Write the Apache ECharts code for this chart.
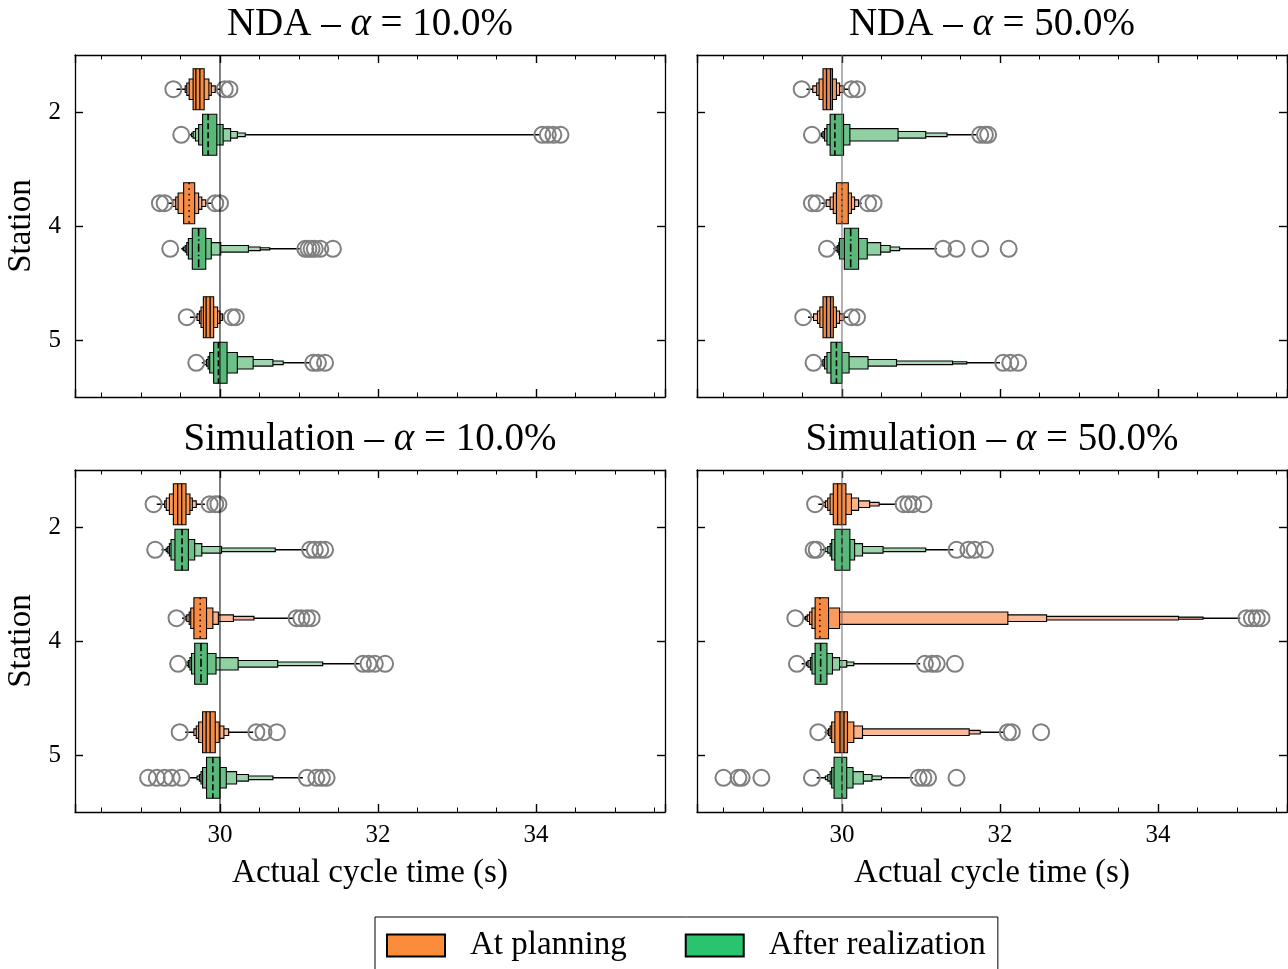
<!DOCTYPE html>
<html>
<head>
<meta charset="utf-8">
<script src="https://cdn.jsdelivr.net/npm/echarts@6/dist/echarts.min.js"></script>
<style>
  html, body { margin: 0; padding: 0; background: #fff; }
  #chart { width: 1288px; height: 969px; }
</style>
</head>
<body>
<div id="chart"></div>
<script>
// stations on the y axis
const STATIONS = ['2', '4', '5'];
const SERIES_NAMES = ['At planning', 'After realization'];
const PANEL_TITLES = [
  'NDA – {a|α} = 10.0%', 'NDA – {a|α} = 50.0%',
  'Simulation – {a|α} = 10.0%', 'Simulation – {a|α} = 50.0%'
];

// letter-value stats per station: median, whisker ends, nested boxes (inner -> outer), outliers
const NDA10_PLAN = [
  { med: 29.72, wh: [29.45, 30.0], lv: [[29.66, 29.80], [29.61, 29.86], [29.58, 29.89], [29.56, 29.94]], out: [29.41, 30.06, 30.12] },
  { med: 29.61, wh: [29.33, 29.89], lv: [[29.54, 29.68], [29.47, 29.73], [29.44, 29.77], [29.40, 29.82]], out: [29.24, 29.30, 29.94, 30.0] },
  { med: 29.85, wh: [29.62, 30.06], lv: [[29.79, 29.92], [29.76, 29.97], [29.74, 30.0], [29.71, 30.03]], out: [29.58, 30.15, 30.20] }
];
const NDA10_REAL = [
  { med: 29.85, wh: [29.62, 34.04], lv: [[29.78, 29.96], [29.73, 30.04], [29.69, 30.135], [29.66, 30.22], [29.64, 30.32]], out: [29.51, 34.08, 34.15, 34.22, 34.31] },
  { med: 29.73, wh: [29.51, 31.01], lv: [[29.65, 29.82], [29.60, 29.89], [29.58, 30.01], [29.56, 30.36], [29.54, 30.51], [29.53, 30.63]], out: [29.37, 31.08, 31.12, 31.16, 31.20, 31.27, 31.43] },
  { med: 29.98, wh: [29.77, 31.14], lv: [[29.92, 30.09], [29.87, 30.22], [29.85, 30.42], [29.83, 30.67], [29.80, 30.80]], out: [29.70, 31.18, 31.24, 31.33] }
];
const NDA50_PLAN = [
  { med: 29.83, wh: [29.55, 30.10], lv: [[29.76, 29.88], [29.71, 29.93], [29.68, 29.97], [29.63, 30.03]], out: [29.49, 30.12, 30.19] },
  { med: 30.0, wh: [29.74, 30.25], lv: [[29.93, 30.08], [29.89, 30.12], [29.85, 30.16], [29.80, 30.21]], out: [29.62, 29.68, 30.33, 30.40] },
  { med: 29.83, wh: [29.57, 30.08], lv: [[29.76, 29.89], [29.72, 29.93], [29.69, 29.97], [29.64, 30.03]], out: [29.51, 30.12, 30.19] }
];
const NDA50_REAL = [
  { med: 29.91, wh: [29.72, 31.70], lv: [[29.85, 30.02], [29.81, 30.10], [29.78, 30.71], [29.76, 31.06], [29.74, 31.33]], out: [29.62, 31.75, 31.81, 31.85] },
  { med: 30.11, wh: [29.89, 31.20], lv: [[30.03, 30.21], [29.97, 30.32], [29.96, 30.49], [29.94, 30.61], [29.92, 30.73]], out: [29.81, 31.28, 31.45, 31.75, 32.11] },
  { med: 29.93, wh: [29.74, 32.0], lv: [[29.86, 30.0], [29.81, 30.09], [29.78, 30.33], [29.76, 30.69], [29.75, 31.40], [29.745, 31.58]], out: [29.64, 32.04, 32.13, 32.23] }
];
const SIM10_PLAN = [
  { med: 29.49, wh: [29.20, 29.81], lv: [[29.41, 29.57], [29.36, 29.62], [29.32, 29.65], [29.30, 29.70]], out: [29.16, 29.87, 29.94, 29.98] },
  { med: 29.75, wh: [29.52, 30.93], lv: [[29.67, 29.83], [29.63, 29.91], [29.61, 29.98], [29.58, 30.17], [29.56, 30.43]], out: [29.45, 30.97, 31.03, 31.10, 31.16] },
  { med: 29.85, wh: [29.56, 30.42], lv: [[29.78, 29.94], [29.73, 29.99], [29.70, 30.05], [29.67, 30.11]], out: [29.49, 30.46, 30.55, 30.72] }
];
const SIM10_REAL = [
  { med: 29.52, wh: [29.26, 31.10], lv: [[29.43, 29.60], [29.38, 29.68], [29.36, 29.77], [29.34, 30.02], [29.32, 30.70]], out: [29.18, 31.14, 31.20, 31.27, 31.33] },
  { med: 29.76, wh: [29.56, 31.77], lv: [[29.68, 29.84], [29.64, 29.95], [29.62, 30.23], [29.60, 30.73], [29.58, 31.30]], out: [29.47, 31.81, 31.88, 31.96, 32.09] },
  { med: 29.91, wh: [29.62, 31.05], lv: [[29.83, 30.0], [29.78, 30.08], [29.76, 30.21], [29.74, 30.36], [29.71, 30.67]], out: [29.09, 29.20, 29.30, 29.39, 29.51, 31.10, 31.22, 31.29, 31.35] }
];
const SIM50_PLAN = [
  { med: 29.97, wh: [29.70, 30.69], lv: [[29.89, 30.05], [29.85, 30.12], [29.82, 30.21], [29.79, 30.35], [29.76, 30.47]], out: [29.66, 30.78, 30.84, 30.90, 31.03] },
  { med: 29.72, wh: [29.51, 35.04], lv: [[29.66, 29.83], [29.62, 29.97], [29.59, 32.10], [29.56, 32.59], [29.54, 34.26], [29.53, 34.57]], out: [29.41, 35.12, 35.19, 35.25, 35.31] },
  { med: 30.0, wh: [29.78, 32.06], lv: [[29.91, 30.07], [29.87, 30.15], [29.85, 30.26], [29.83, 31.61], [29.81, 31.75]], out: [29.70, 32.10, 32.15, 32.52] }
];
const SIM50_REAL = [
  { med: 30.0, wh: [29.72, 31.41], lv: [[29.91, 30.10], [29.87, 30.16], [29.85, 30.26], [29.82, 30.52], [29.79, 31.06]], out: [29.64, 29.68, 31.45, 31.60, 31.68, 31.81] },
  { med: 29.73, wh: [29.49, 30.99], lv: [[29.66, 29.81], [29.62, 29.88], [29.60, 29.97], [29.57, 30.06], [29.55, 30.15]], out: [29.43, 31.05, 31.14, 31.20, 31.43] },
  { med: 30.0, wh: [29.68, 30.90], lv: [[29.90, 30.06], [29.87, 30.14], [29.85, 30.27], [29.82, 30.38], [29.79, 30.50]], out: [28.50, 28.69, 28.73, 28.98, 29.62, 30.97, 31.03, 31.09, 31.45] }
];

const PANELS = [
  [NDA10_PLAN, NDA10_REAL], [NDA50_PLAN, NDA50_REAL],
  [SIM10_PLAN, SIM10_REAL], [SIM50_PLAN, SIM50_REAL]
];
const REF_VALUE = 30;

// styles
const FONT = 'Liberation Serif';
const LEGEND_COLORS = ['#fb8d3a', '#2bc46e'];
const LEVEL_COLORS = [
  ['#f68a42', '#f89b5c', '#fbb289', '#f9bb9c', '#f2b398', '#e8aa90'],
  ['#58b878', '#6cc088', '#90d0a2', '#9fd6b0', '#a9dab8', '#b3dec0']
];
const LEVEL_H = [1, 0.5, 0.3, 0.16, 0.09, 0.05];
const MEDIAN_STYLE = [['double', 'dotted', 'double'], ['dashed', 'dashdot', 'dashed']];
const REF_COLORS = ['#000', '#666', '#000', '#666'];
const GRIDS = [
  { left: 75, top: 55, width: 590, height: 342 },
  { left: 697, top: 55, width: 590, height: 342 },
  { left: 75, top: 470, width: 590, height: 342 },
  { left: 697, top: 470, width: 590, height: 342 }
];
const GROUP_OFFSET = 0.2;
const BOX_FRAC = 0.36;

function boxenRender(stats, hue) {
  return function (params, api) {
    const si = params.dataIndex;
    const st = stats[si];
    const c = api.coord([api.value(0), api.value(1)]);
    const band = api.size([0, 1])[1];
    const cy = c[1] + (hue === 0 ? -1 : 1) * band * GROUP_OFFSET;
    const full = band * BOX_FRAC;
    const px = v => api.coord([v, api.value(1)])[0];
    const children = [];
    children.push({
      type: 'line',
      shape: { x1: px(st.wh[0]), y1: cy, x2: px(st.wh[1]), y2: cy },
      style: { stroke: '#000', lineWidth: 1.6 }
    });
    for (let k = st.lv.length - 1; k >= 0; k--) {
      const h = full * LEVEL_H[k];
      const x0 = px(st.lv[k][0]);
      const x1 = px(st.lv[k][1]);
      children.push({
        type: 'rect',
        shape: { x: x0, y: cy - h / 2, width: x1 - x0, height: h },
        style: { fill: LEVEL_COLORS[hue][k], stroke: '#000', lineWidth: 1.1 }
      });
    }
    const mx = c[0];
    const ms = MEDIAN_STYLE[hue][si];
    const y0 = cy - full / 2, y1 = cy + full / 2;
    if (ms === 'double') {
      [-2, 2].forEach(d => children.push({
        type: 'line', shape: { x1: mx + d, y1: y0, x2: mx + d, y2: y1 },
        style: { stroke: '#000', lineWidth: 1.3 }
      }));
    } else {
      const dash = ms === 'dotted' ? [1.5, 4] : ms === 'dashed' ? [6, 3] : [8, 3, 1.5, 3];
      children.push({
        type: 'line', shape: { x1: mx, y1: y0, x2: mx, y2: y1 },
        style: { stroke: '#000', lineWidth: 1.6, lineDash: dash }
      });
    }
    st.out.forEach(v => children.push({
      type: 'circle', shape: { cx: px(v), cy: cy, r: 8 },
      style: { fill: 'none', stroke: '#7f7f7f', lineWidth: 2 }
    }));
    return { type: 'group', children: children };
  };
}

function refRender(g) {
  return function (params, api) {
    const cs = params.coordSys;
    const x = api.coord([api.value(0), 0])[0];
    return {
      type: 'line',
      shape: { x1: x, y1: cs.y, x2: x, y2: cs.y + cs.height },
      style: { stroke: REF_COLORS[g], lineWidth: 1 }
    };
  };
}

const chart = echarts.init(document.getElementById('chart'), null, { renderer: 'canvas' });

const xAxes = [];
const yAxes = [];
const series = [];
const titles = [];

function xAxisOpt(g, pos) {
  const showLabel = pos === 'bottom' && g >= 2;
  return {
    gridIndex: g, type: 'value', position: pos,
    min: 28.165, max: 35.633, splitNumber: 4, minInterval: 2, maxInterval: 2,
    axisLine: { show: true, onZero: false, lineStyle: { color: '#000', width: 1.3 } },
    axisTick: { show: true, inside: true, length: 8, lineStyle: { color: '#000', width: 1.4 } },
    minorTick: { show: true, splitNumber: 4, length: 4.5, lineStyle: { color: '#000', width: 1 } },
    splitLine: { show: false },
    axisLabel: {
      show: showLabel, showMinLabel: false, showMaxLabel: false, margin: 11,
      color: '#000', fontFamily: FONT, fontSize: 25
    },
    name: showLabel ? 'Actual cycle time (s)' : '',
    nameLocation: 'middle', nameGap: 45,
    nameTextStyle: { color: '#000', fontFamily: FONT, fontSize: 33 }
  };
}

function yAxisOpt(g, pos) {
  const showLabel = pos === 'left' && g % 2 === 0;
  return {
    gridIndex: g, type: 'category', data: STATIONS, inverse: true, position: pos,
    axisLine: { show: true, onZero: false, lineStyle: { color: '#000', width: 1.3 } },
    axisTick: { show: true, inside: true, alignWithLabel: true, length: 8, lineStyle: { color: '#000', width: 1.4 } },
    splitLine: { show: false },
    axisLabel: { show: showLabel, margin: 14, color: '#000', fontFamily: FONT, fontSize: 25 },
    name: showLabel ? 'Station' : '',
    nameLocation: 'middle', nameGap: 37, nameRotate: 90,
    nameTextStyle: { color: '#000', fontFamily: FONT, fontSize: 33 }
  };
}

for (let g = 0; g < 4; g++) {
  xAxes[g] = xAxisOpt(g, 'bottom');
  xAxes[g + 4] = xAxisOpt(g, 'top');
  yAxes[g] = yAxisOpt(g, 'left');
  yAxes[g + 4] = yAxisOpt(g, 'right');

  PANELS[g].forEach((stats, hue) => {
    series.push({
      name: SERIES_NAMES[hue],
      type: 'custom',
      xAxisIndex: g, yAxisIndex: g,
      itemStyle: { color: LEGEND_COLORS[hue] },
      data: stats.map((s, i) => [s.med, i]),
      encode: { x: 0, y: 1 },
      renderItem: boxenRender(stats, hue),
      z: 2,
      silent: true
    });
  });
  series.push({
    type: 'custom',
    xAxisIndex: g, yAxisIndex: g,
    data: [[REF_VALUE, 0]],
    encode: { x: 0, y: 1 },
    renderItem: refRender(g),
    z: 3,
    silent: true
  });

  const grid = GRIDS[g];
  titles.push({
    text: PANEL_TITLES[g],
    left: grid.left + grid.width / 2,
    top: g < 2 ? 5 : 420,
    textAlign: 'center',
    padding: 0,
    textStyle: {
      fontFamily: FONT, fontSize: 39, fontWeight: 'normal', color: '#000',
      rich: { a: { fontFamily: FONT, fontSize: 39, fontStyle: 'italic', color: '#000' } }
    }
  });
}

const option = {
  animation: false,
  backgroundColor: '#fff',
  title: titles,
  grid: GRIDS.map(r => Object.assign({ show: false, containLabel: false }, r)),
  xAxis: xAxes,
  yAxis: yAxes,
  legend: {
    left: 375, top: 917,
    orient: 'horizontal',
    itemWidth: 58, itemHeight: 22, itemGap: 58,
    padding: [12, 12, 40, 11],
    borderColor: '#000', borderWidth: 1, borderRadius: 0,
    backgroundColor: '#fff',
    selectedMode: false,
    textStyle: { fontFamily: FONT, fontSize: 33, color: '#000', padding: [0, 0, 0, 20] },
    data: SERIES_NAMES.map((n, i) => ({
      name: n, icon: 'rect',
      itemStyle: { color: LEGEND_COLORS[i], borderColor: '#000', borderWidth: 2 }
    }))
  },
  series: series
};

chart.setOption(option);
</script>
</body>
</html>
